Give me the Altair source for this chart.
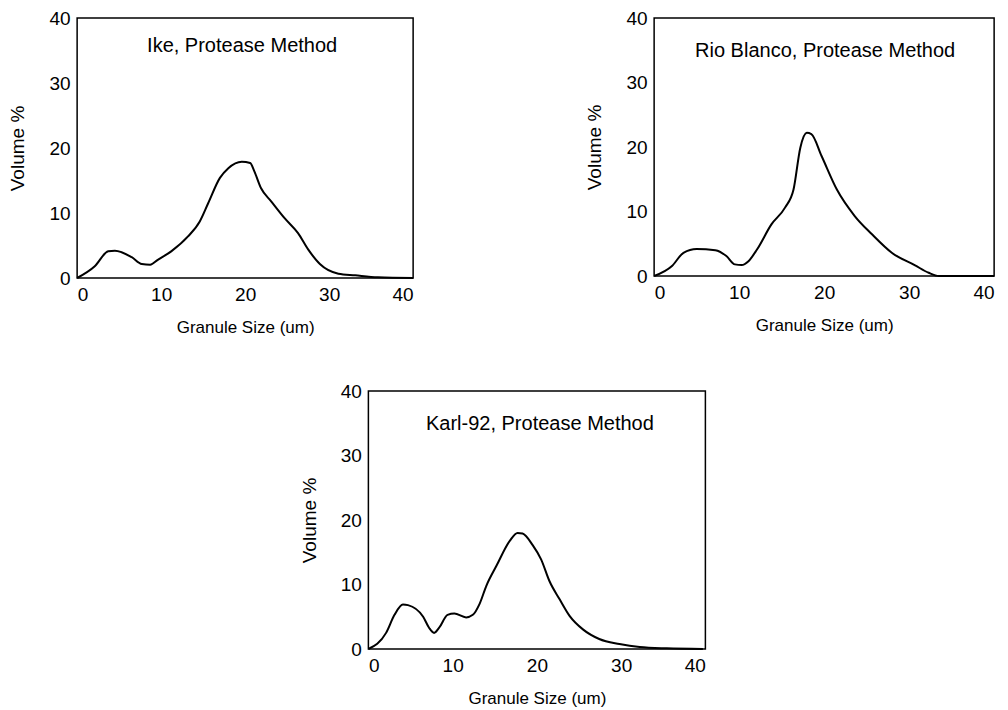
import altair as alt
import pandas as pd

FONT = "Liberation Sans"

# Ike, Protease Method
ike_size = [0, 2.1, 3.7, 4.5, 6.5, 7.7, 8.7, 9.6, 11.2, 13.2, 14.6, 15.6, 17.0, 18.0, 19.6, 20.6, 21.1, 21.9, 23.1, 24.7, 26.3, 27.5, 28.9, 31.1, 33.1, 35.8, 40]
ike_vol = [0, 1.8, 4.1, 4.2, 3.2, 2.15, 2.05, 2.8, 4.1, 6.4, 8.7, 11.5, 15.4, 16.9, 17.9, 17.7, 16.4, 13.8, 11.8, 9.2, 6.9, 4.4, 2.15, 0.67, 0.41, 0.1, 0]

# Rio Blanco, Protease Method
rio_size = [0, 2.1, 3.45, 5.0, 7.2, 8.5, 9.5, 10.3, 11.1, 12.1, 13.8, 15.4, 16.4, 17.2, 17.96, 18.5, 19.7, 21.5, 23.6, 25.6, 27.96, 30.7, 32.3, 33.5, 40]
rio_vol = [0, 1.55, 3.6, 4.2, 4.0, 3.1, 1.8, 1.7, 2.3, 4.1, 8.0, 10.6, 13.4, 19.9, 22.2, 22.0, 18.6, 13.4, 9.3, 6.5, 3.6, 1.65, 0.5, 0, 0]

# Karl-92, Protease Method
karl_size = [0, 2.1, 3.1, 4.1, 4.7, 6.5, 7.2, 7.8, 8.4, 9.4, 10.2, 11.6, 12.4, 13.2, 14.0, 15.2, 16.8, 17.7, 18.3, 19.5, 20.5, 21.5, 22.7, 23.9, 25.5, 27.4, 29.8, 32.2, 35.4, 39.7]
karl_vol = [0, 2.5, 5.3, 6.9, 6.8, 5.0, 3.3, 2.5, 3.3, 5.3, 5.5, 4.9, 5.3, 7.0, 9.8, 12.9, 16.8, 18.0, 17.9, 16.1, 13.9, 10.5, 7.7, 5.1, 3.0, 1.55, 0.78, 0.31, 0.1, 0]

ticks = [0, 10, 20, 30, 40]


def panel(xs, ys, label, w, h, text_dx, text_y):
    df = pd.DataFrame({"size": xs, "vol": ys})
    line = alt.Chart(df).mark_line(
        color="black", strokeWidth=2, interpolate="monotone"
    ).encode(
        x=alt.X("size:Q", scale=alt.Scale(domain=[0, 40], nice=False),
                axis=alt.Axis(values=ticks, title="Granule Size (um)")),
        y=alt.Y("vol:Q", scale=alt.Scale(domain=[0, 40], nice=False),
                axis=alt.Axis(values=ticks, title="Volume %")),
    )
    txt = alt.Chart(pd.DataFrame({"t": [label]})).mark_text(
        font=FONT, fontSize=20, color="black", align="center", baseline="middle"
    ).encode(text="t:N", x=alt.value(w / 2 + text_dx), y=alt.value(text_y))
    return alt.layer(line, txt).properties(width=w, height=h)


p1 = panel(ike_size, ike_vol, "Ike, Protease Method", 336, 260, -3, 28)
p2 = panel(rio_size, rio_vol, "Rio Blanco, Protease Method", 340, 258, 1, 33)
p3 = panel(karl_size, karl_vol, "Karl-92, Protease Method", 337, 258, 3, 33)

top = alt.hconcat(p1, p2, spacing=167)
chart = alt.vconcat(top, p3, spacing=45, center=True).properties(
    padding={"left": 0, "top": 0, "right": 0, "bottom": 0},
    background="white",
).configure_view(
    stroke="black", strokeWidth=1.5
).configure_axis(
    grid=False, ticks=False, domain=False,
    labelFont=FONT, labelFontSize=19, labelColor="black",
    titleFont=FONT, titleColor="black", titleFontWeight="normal",
    labelPadding=7,
).configure_axisX(
    labelPadding=7, titlePadding=15, titleFontSize=17
).configure_axisY(
    titlePadding=21, titleFontSize=19
)

chart.save("out.html", embed_options={"renderer": "svg", "actions": False})
